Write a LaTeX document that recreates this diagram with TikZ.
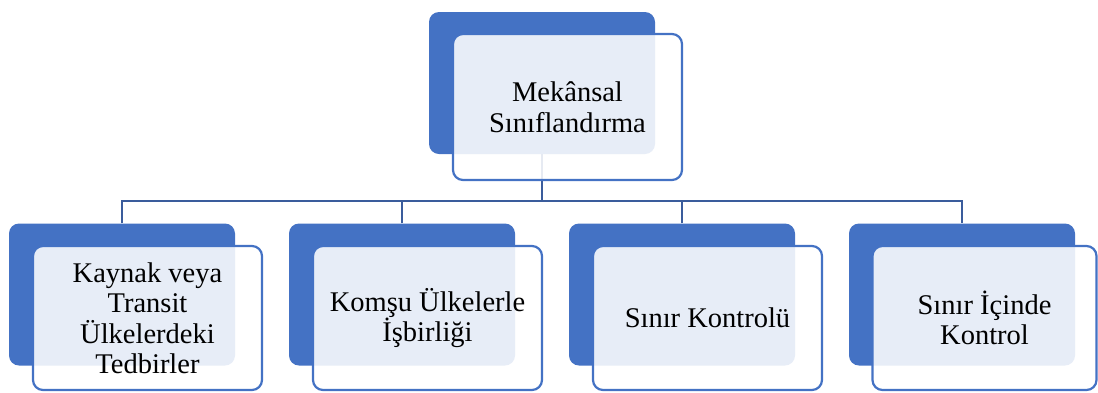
\documentclass[tikz,border=0pt]{standalone}
\usepackage{fontspec}
\setmainfont{Liberation Serif}
\definecolor{accent}{HTML}{4472C4}
\definecolor{linkblue}{HTML}{3A5C9C}
\begin{document}
\begin{tikzpicture}[x=1pt,y=-1pt,
  backbox/.style={fill=accent, draw=none, rounded corners=10pt,
    minimum width=226pt, minimum height=142pt, inner sep=0pt},
  frontbox/.style={draw=accent, line width=2.2pt, fill=white, fill opacity=0.875,
    text opacity=1, rounded corners=10pt, minimum width=229pt, minimum height=144pt,
    inner sep=0pt, align=center, font=\fontsize{28.5}{30.5}\selectfont},
  conn/.style={draw=linkblue, line width=2.4pt}]
\useasboundingbox (0,0) rectangle (1098,392);

% back plates
\node[backbox] (b0) at (542,83) {};
\node[backbox] (b1) at (122,294.5) {};
\node[backbox] (b2) at (402,294.5) {};
\node[backbox] (b3) at (682,294.5) {};
\node[backbox] (b4) at (962,294.5) {};

% tree connectors
\coordinate (bus) at (0,201);
\draw[conn] (b0.south) -- (b0.south |- bus);
\draw[conn] (b1.north) -- (b1.north |- bus) -- (b4.north |- bus) -- (b4.north);
\draw[conn] (b2.north) -- (b2.north |- bus);
\draw[conn] (b3.north) -- (b3.north |- bus);

% front cards with the labels
\node[frontbox, minimum height=146pt] (f0) at (567.5,107) {Mekânsal\\Sınıflandırma};
\node[frontbox] (f1) at (147.5,318) {Kaynak veya\\Transit\\Ülkelerdeki\\Tedbirler};
\node[frontbox] (f2) at (427.5,318) {Komşu Ülkelerle\\İşbirliği};
\node[frontbox] (f3) at (707.5,318) {Sınır Kontrolü};
\node[frontbox, minimum width=224pt] (f4) at (984.5,318) {Sınır İçinde\\Kontrol};
\end{tikzpicture}
\end{document}
